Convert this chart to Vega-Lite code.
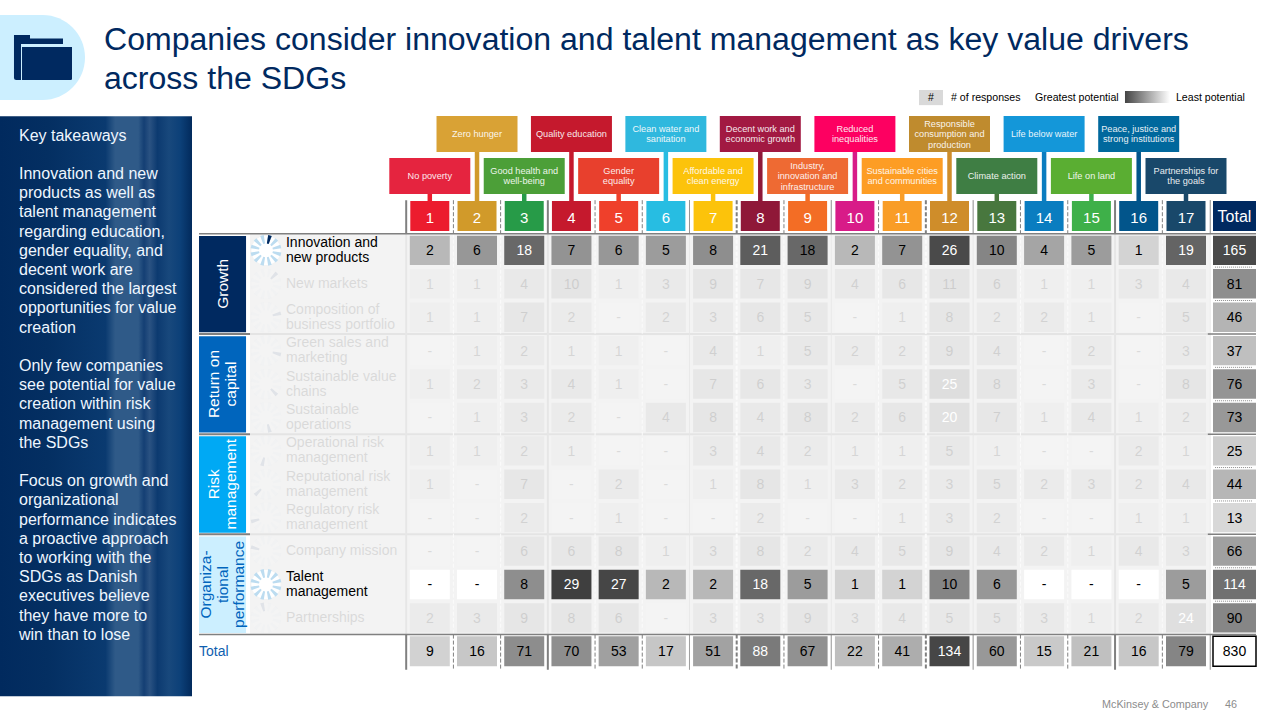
{"$schema":"https://vega.github.io/schema/vega-lite/v6.json","width":1280,"height":720,"padding":0,"autosize":{"type":"none"},"background":"white",
"config":{"view":{"stroke":null},"axis":{"disable":true},"legend":{"disable":true},"font":"Liberation Sans","text":{"font":"Liberation Sans"}},
"title":{"text":["Companies consider innovation and talent management as key value drivers","across the SDGs"],"anchor":"start","frame":"group","dx":104,"dy":96,"fontSize":32.05,"fontWeight":"normal","font":"Liberation Sans","color":"#002960","lineHeight":39,"offset":0},
"datasets":{
"cells":[
{"row":1,"col":1,"value":2},{"row":1,"col":2,"value":6},{"row":1,"col":3,"value":18},{"row":1,"col":4,"value":7},{"row":1,"col":5,"value":6},{"row":1,"col":6,"value":5},{"row":1,"col":7,"value":8},{"row":1,"col":8,"value":21},{"row":1,"col":9,"value":18},{"row":1,"col":10,"value":2},{"row":1,"col":11,"value":7},{"row":1,"col":12,"value":26},{"row":1,"col":13,"value":10},{"row":1,"col":14,"value":4},{"row":1,"col":15,"value":5},{"row":1,"col":16,"value":1},{"row":1,"col":17,"value":19},
{"row":2,"col":1,"value":1},{"row":2,"col":2,"value":1},{"row":2,"col":3,"value":4},{"row":2,"col":4,"value":10},{"row":2,"col":5,"value":1},{"row":2,"col":6,"value":3},{"row":2,"col":7,"value":9},{"row":2,"col":8,"value":7},{"row":2,"col":9,"value":9},{"row":2,"col":10,"value":4},{"row":2,"col":11,"value":6},{"row":2,"col":12,"value":11},{"row":2,"col":13,"value":6},{"row":2,"col":14,"value":1},{"row":2,"col":15,"value":1},{"row":2,"col":16,"value":3},{"row":2,"col":17,"value":4},
{"row":3,"col":1,"value":1},{"row":3,"col":2,"value":1},{"row":3,"col":3,"value":7},{"row":3,"col":4,"value":2},{"row":3,"col":5,"value":0},{"row":3,"col":6,"value":2},{"row":3,"col":7,"value":3},{"row":3,"col":8,"value":6},{"row":3,"col":9,"value":5},{"row":3,"col":10,"value":0},{"row":3,"col":11,"value":1},{"row":3,"col":12,"value":8},{"row":3,"col":13,"value":2},{"row":3,"col":14,"value":2},{"row":3,"col":15,"value":1},{"row":3,"col":16,"value":0},{"row":3,"col":17,"value":5},
{"row":4,"col":1,"value":0},{"row":4,"col":2,"value":1},{"row":4,"col":3,"value":2},{"row":4,"col":4,"value":1},{"row":4,"col":5,"value":1},{"row":4,"col":6,"value":0},{"row":4,"col":7,"value":4},{"row":4,"col":8,"value":1},{"row":4,"col":9,"value":5},{"row":4,"col":10,"value":2},{"row":4,"col":11,"value":2},{"row":4,"col":12,"value":9},{"row":4,"col":13,"value":4},{"row":4,"col":14,"value":0},{"row":4,"col":15,"value":2},{"row":4,"col":16,"value":0},{"row":4,"col":17,"value":3},
{"row":5,"col":1,"value":1},{"row":5,"col":2,"value":2},{"row":5,"col":3,"value":3},{"row":5,"col":4,"value":4},{"row":5,"col":5,"value":1},{"row":5,"col":6,"value":0},{"row":5,"col":7,"value":7},{"row":5,"col":8,"value":6},{"row":5,"col":9,"value":3},{"row":5,"col":10,"value":0},{"row":5,"col":11,"value":5},{"row":5,"col":12,"value":25},{"row":5,"col":13,"value":8},{"row":5,"col":14,"value":0},{"row":5,"col":15,"value":3},{"row":5,"col":16,"value":0},{"row":5,"col":17,"value":8},
{"row":6,"col":1,"value":0},{"row":6,"col":2,"value":1},{"row":6,"col":3,"value":3},{"row":6,"col":4,"value":2},{"row":6,"col":5,"value":0},{"row":6,"col":6,"value":4},{"row":6,"col":7,"value":8},{"row":6,"col":8,"value":4},{"row":6,"col":9,"value":8},{"row":6,"col":10,"value":2},{"row":6,"col":11,"value":6},{"row":6,"col":12,"value":20},{"row":6,"col":13,"value":7},{"row":6,"col":14,"value":1},{"row":6,"col":15,"value":4},{"row":6,"col":16,"value":1},{"row":6,"col":17,"value":2},
{"row":7,"col":1,"value":1},{"row":7,"col":2,"value":1},{"row":7,"col":3,"value":2},{"row":7,"col":4,"value":1},{"row":7,"col":5,"value":0},{"row":7,"col":6,"value":0},{"row":7,"col":7,"value":3},{"row":7,"col":8,"value":4},{"row":7,"col":9,"value":2},{"row":7,"col":10,"value":1},{"row":7,"col":11,"value":1},{"row":7,"col":12,"value":5},{"row":7,"col":13,"value":1},{"row":7,"col":14,"value":0},{"row":7,"col":15,"value":0},{"row":7,"col":16,"value":2},{"row":7,"col":17,"value":1},
{"row":8,"col":1,"value":1},{"row":8,"col":2,"value":0},{"row":8,"col":3,"value":7},{"row":8,"col":4,"value":0},{"row":8,"col":5,"value":2},{"row":8,"col":6,"value":0},{"row":8,"col":7,"value":1},{"row":8,"col":8,"value":8},{"row":8,"col":9,"value":1},{"row":8,"col":10,"value":3},{"row":8,"col":11,"value":2},{"row":8,"col":12,"value":3},{"row":8,"col":13,"value":5},{"row":8,"col":14,"value":2},{"row":8,"col":15,"value":3},{"row":8,"col":16,"value":2},{"row":8,"col":17,"value":4},
{"row":9,"col":1,"value":0},{"row":9,"col":2,"value":0},{"row":9,"col":3,"value":2},{"row":9,"col":4,"value":0},{"row":9,"col":5,"value":1},{"row":9,"col":6,"value":0},{"row":9,"col":7,"value":0},{"row":9,"col":8,"value":2},{"row":9,"col":9,"value":0},{"row":9,"col":10,"value":0},{"row":9,"col":11,"value":1},{"row":9,"col":12,"value":3},{"row":9,"col":13,"value":2},{"row":9,"col":14,"value":0},{"row":9,"col":15,"value":0},{"row":9,"col":16,"value":1},{"row":9,"col":17,"value":1},
{"row":10,"col":1,"value":0},{"row":10,"col":2,"value":0},{"row":10,"col":3,"value":6},{"row":10,"col":4,"value":6},{"row":10,"col":5,"value":8},{"row":10,"col":6,"value":1},{"row":10,"col":7,"value":3},{"row":10,"col":8,"value":8},{"row":10,"col":9,"value":2},{"row":10,"col":10,"value":4},{"row":10,"col":11,"value":5},{"row":10,"col":12,"value":9},{"row":10,"col":13,"value":4},{"row":10,"col":14,"value":2},{"row":10,"col":15,"value":1},{"row":10,"col":16,"value":4},{"row":10,"col":17,"value":3},
{"row":11,"col":1,"value":0},{"row":11,"col":2,"value":0},{"row":11,"col":3,"value":8},{"row":11,"col":4,"value":29},{"row":11,"col":5,"value":27},{"row":11,"col":6,"value":2},{"row":11,"col":7,"value":2},{"row":11,"col":8,"value":18},{"row":11,"col":9,"value":5},{"row":11,"col":10,"value":1},{"row":11,"col":11,"value":1},{"row":11,"col":12,"value":10},{"row":11,"col":13,"value":6},{"row":11,"col":14,"value":0},{"row":11,"col":15,"value":0},{"row":11,"col":16,"value":0},{"row":11,"col":17,"value":5},
{"row":12,"col":1,"value":2},{"row":12,"col":2,"value":3},{"row":12,"col":3,"value":9},{"row":12,"col":4,"value":8},{"row":12,"col":5,"value":6},{"row":12,"col":6,"value":0},{"row":12,"col":7,"value":3},{"row":12,"col":8,"value":3},{"row":12,"col":9,"value":9},{"row":12,"col":10,"value":3},{"row":12,"col":11,"value":4},{"row":12,"col":12,"value":5},{"row":12,"col":13,"value":5},{"row":12,"col":14,"value":3},{"row":12,"col":15,"value":1},{"row":12,"col":16,"value":2},{"row":12,"col":17,"value":24}],
"totals":[
{"row":13,"col":1,"value":9},{"row":13,"col":2,"value":16},{"row":13,"col":3,"value":71},{"row":13,"col":4,"value":70},{"row":13,"col":5,"value":53},{"row":13,"col":6,"value":17},{"row":13,"col":7,"value":51},{"row":13,"col":8,"value":88},{"row":13,"col":9,"value":67},{"row":13,"col":10,"value":22},{"row":13,"col":11,"value":41},{"row":13,"col":12,"value":134},{"row":13,"col":13,"value":60},{"row":13,"col":14,"value":15},{"row":13,"col":15,"value":21},{"row":13,"col":16,"value":16},{"row":13,"col":17,"value":79},
{"row":1,"col":18,"value":165},{"row":2,"col":18,"value":81},{"row":3,"col":18,"value":46},{"row":4,"col":18,"value":37},{"row":5,"col":18,"value":76},{"row":6,"col":18,"value":73},{"row":7,"col":18,"value":25},{"row":8,"col":18,"value":44},{"row":9,"col":18,"value":13},{"row":10,"col":18,"value":66},{"row":11,"col":18,"value":114},{"row":12,"col":18,"value":90}],
"metrics":[
{"row":1,"metric":"Innovation and\nnew products","dial":1},{"row":2,"metric":"New markets","dial":2},{"row":3,"metric":"Composition of\nbusiness portfolio","dial":3},{"row":4,"metric":"Green sales and\nmarketing","dial":4},{"row":5,"metric":"Sustainable value\nchains","dial":5},{"row":6,"metric":"Sustainable\noperations","dial":6},{"row":7,"metric":"Operational risk\nmanagement","dial":7},{"row":8,"metric":"Reputational risk\nmanagement","dial":8},{"row":9,"metric":"Regulatory risk\nmanagement","dial":9},{"row":10,"metric":"Company mission","dial":10},{"row":11,"metric":"Talent\nmanagement"},{"row":12,"metric":"Partnerships","dial":12}],
"groups":[
{"group":"Growth","label":"Growth","rowFirst":1,"rowLast":3,"rowMid":2},
{"group":"Return on capital","label":"Return on\ncapital","rowFirst":4,"rowLast":6,"rowMid":5},
{"group":"Risk management","label":"Risk\nmanagement","rowFirst":7,"rowLast":9,"rowMid":8},
{"group":"Organizational performance","label":"Organiza-\ntional\nperformance","rowFirst":10,"rowLast":12,"rowMid":11}],
"sdgs":[
{"col":1,"goal":"No poverty","label":"No poverty","tier":-1},
{"col":2,"goal":"Zero hunger","label":"Zero hunger","tier":-2},
{"col":3,"goal":"Good health and well-being","label":"Good health and\nwell-being","tier":-1},
{"col":4,"goal":"Quality education","label":"Quality education","tier":-2},
{"col":5,"goal":"Gender equality","label":"Gender\nequality","tier":-1},
{"col":6,"goal":"Clean water and sanitation","label":"Clean water and\nsanitation","tier":-2},
{"col":7,"goal":"Affordable and clean energy","label":"Affordable and\nclean energy","tier":-1},
{"col":8,"goal":"Decent work and economic growth","label":"Decent work and\neconomic growth","tier":-2},
{"col":9,"goal":"Industry, innovation and infrastructure","label":"Industry,\ninnovation and\ninfrastructure","tier":-1},
{"col":10,"goal":"Reduced inequalities","label":"Reduced\ninequalities","tier":-2},
{"col":11,"goal":"Sustainable cities and communities","label":"Sustainable cities\nand communities","tier":-1},
{"col":12,"goal":"Responsible consumption and production","label":"Responsible\nconsumption and\nproduction","tier":-2},
{"col":13,"goal":"Climate action","label":"Climate action","tier":-1},
{"col":14,"goal":"Life below water","label":"Life below water","tier":-2},
{"col":15,"goal":"Life on land","label":"Life on land","tier":-1},
{"col":16,"goal":"Peace, justice and strong institutions","label":"Peace, justice and\nstrong institutions","tier":-2},
{"col":17,"goal":"Partnerships for the goals","label":"Partnerships for\nthe goals","tier":-1}],
"vlines":[
{"col":0.5,"line":"solid","weight":"thick"},{"col":1.5,"line":"dash","weight":"thin"},{"col":2.5,"line":"dash","weight":"thin"},{"col":3.5,"line":"solid","weight":"thick"},{"col":4.5,"line":"dash","weight":"thin"},{"col":5.5,"line":"dash","weight":"thin"},{"col":6.5,"line":"solid","weight":"thin"},{"col":7.5,"line":"dash","weight":"thick"},{"col":8.5,"line":"dash","weight":"thin"},{"col":9.5,"line":"solid","weight":"thin"},{"col":10.5,"line":"dash","weight":"thin"},{"col":11.5,"line":"dash","weight":"thick"},{"col":12.5,"line":"solid","weight":"thin"},{"col":13.5,"line":"dash","weight":"thin"},{"col":14.5,"line":"dash","weight":"thin"},{"col":15.5,"line":"solid","weight":"thick"},{"col":16.5,"line":"dash","weight":"thin"},{"col":17.5,"line":"solid","weight":"thin"}],
"hlines":[
{"row":0.5,"kind":"frame"},{"row":12.5,"kind":"frame"},{"row":3.5,"kind":"group"},{"row":6.5,"kind":"group"},{"row":9.5,"kind":"group"},
{"row":1.5,"kind":"dot"},{"row":2.5,"kind":"dot"},{"row":4.5,"kind":"dot"},{"row":5.5,"kind":"dot"},{"row":7.5,"kind":"dot"},{"row":8.5,"kind":"dot"},{"row":10.5,"kind":"dot"},{"row":11.5,"kind":"dot"}],
"takeaways":[
{"line":1,"text":"Key takeaways"},{"line":3,"text":"Innovation and new"},{"line":4,"text":"products as well as"},{"line":5,"text":"talent management"},{"line":6,"text":"regarding education,"},{"line":7,"text":"gender equality, and"},{"line":8,"text":"decent work are"},{"line":9,"text":"considered the largest"},{"line":10,"text":"opportunities for value"},{"line":11,"text":"creation"},
{"line":13,"text":"Only few companies"},{"line":14,"text":"see potential for value"},{"line":15,"text":"creation within risk"},{"line":16,"text":"management using"},{"line":17,"text":"the SDGs"},
{"line":19,"text":"Focus on growth and"},{"line":20,"text":"organizational"},{"line":21,"text":"performance indicates"},{"line":22,"text":"a proactive approach"},{"line":23,"text":"to working with the"},{"line":24,"text":"SDGs as Danish"},{"line":25,"text":"executives believe"},{"line":26,"text":"they have more to"},{"line":27,"text":"win than to lose"}],
"one":[{"item":"single"}]
},
"resolve":{"scale":{"x":"independent","y":"independent"}},
"layer":[
{"data":{"name":"one"},
 "encoding":{"x":{"datum":0.5,"type":"quantitative","scale":{"domain":[0,1],"range":[0,85],"zero":false,"nice":false}},"y":{"datum":0.5,"type":"quantitative","scale":{"domain":[0,1],"range":[15,100],"zero":false,"nice":false}}},
 "layer":[
 {"mark":{"type":"point","filled":true,"opacity":1,"size":7225,"color":"#ccefff","strokeWidth":0,"shape":"M-1,-1H0A1,1,0,0,1,0,1H-1Z"}},
 {"mark":{"type":"point","filled":true,"opacity":1,"size":7225,"color":"#002960","strokeWidth":0,"shape":"M-0.671,-0.529H-0.294V-0.447H0.482V-0.318H-0.506V0.529H-0.62Q-0.671,0.529,-0.671,0.48ZM-0.482,-0.247H0.694V0.5Q0.694,0.529,0.665,0.529H-0.482Z"}}
 ]},
{"encoding":{"x":{"type":"quantitative","scale":{"domain":[0,1],"range":[0,192],"zero":false,"nice":false}},"y":{"type":"quantitative","scale":{"domain":[1,27],"range":[135.5,634.8],"zero":false,"nice":false}}},
 "layer":[
 {"data":{"name":"one"},"mark":{"type":"rect","fill":{"gradient":"linear","x1":0,"x2":1,"y1":0,"y2":0,"stops":[{"offset":0,"color":"#012a5e"},{"offset":0.25,"color":"#042f62"},{"offset":0.55,"color":"#0a3a70"},{"offset":0.6,"color":"#2f5a88"},{"offset":0.72,"color":"#2f5a88"},{"offset":0.75,"color":"#143f74"},{"offset":0.78,"color":"#2a5282"},{"offset":0.82,"color":"#0c3a70"},{"offset":0.88,"color":"#18487c"},{"offset":0.94,"color":"#0c4078"},{"offset":1,"color":"#022a5c"}]}},
  "encoding":{"x":{"datum":0},"x2":{"datum":1},"y":{"datum":0},"y2":{"datum":30.2}}},
 {"data":{"name":"takeaways"},"mark":{"type":"text","align":"left","baseline":"middle","fontSize":16,"color":"#eef6ff"},"encoding":{"x":{"datum":0.099},"y":{"field":"line"},"text":{"field":"text"}}}
 ]},
{"encoding":{"x":{"type":"quantitative","scale":{"domain":[1,8,17,18],"range":[429.8,760.3,1186,1234.5],"zero":false,"nice":false}},"y":{"type":"quantitative","scale":{"domain":[-3,-2,-1,0,13],"range":[97,134,176,217,651.3],"zero":false,"nice":false}}},
 "resolve":{"scale":{"color":"independent"}},
 "layer":[
 {"data":{"name":"one"},"mark":{"type":"rect","color":"#f3f3f3"},"encoding":{"x":{"datum":-2.808},"x2":{"datum":17.5},"y":{"datum":0.5},"y2":{"datum":12.5}}},
 {"data":{"name":"hlines"},"transform":[{"filter":"datum.kind==='group'"}],"mark":{"type":"rule","color":"#e4e4e4","strokeWidth":2},"encoding":{"x":{"datum":-2.808},"x2":{"datum":17.5},"y":{"field":"row"}}},
 {"data":{"name":"vlines"},"mark":{"type":"rule"},"encoding":{"x":{"field":"col"},"y":{"datum":0.5},"y2":{"datum":12.5},"color":{"field":"line","type":"nominal","scale":{"domain":["solid","dash"],"range":["#e6e6e6","#fbfbfb"]}},"strokeDash":{"field":"line","type":"nominal","scale":{"domain":["solid","dash"],"range":[[1,0],[4,2]]}},"strokeWidth":{"field":"weight","type":"ordinal","scale":{"domain":["thick","thin"],"range":[2,1]}}}},
 {"data":{"name":"vlines"},"mark":{"type":"rule","color":"#808080"},"encoding":{"x":{"field":"col"},"y":{"datum":-0.41},"y2":{"datum":0.5},"strokeDash":{"field":"line","type":"nominal","scale":{"domain":["solid","dash"],"range":[[1,0],[4,2]]}},"strokeWidth":{"field":"weight","type":"ordinal","scale":{"domain":["thick","thin"],"range":[2,1]}}}},
 {"data":{"name":"vlines"},"mark":{"type":"rule","color":"#808080"},"encoding":{"x":{"field":"col"},"y":{"datum":12.5},"y2":{"datum":13.55},"strokeDash":{"field":"line","type":"nominal","scale":{"domain":["solid","dash"],"range":[[1,0],[4,2]]}},"strokeWidth":{"field":"weight","type":"ordinal","scale":{"domain":["thick","thin"],"range":[2,1]}}}},
 {"data":{"name":"hlines"},"transform":[{"filter":"datum.kind==='frame'"}],"mark":{"type":"rule","color":"#808080","strokeWidth":1.5},"encoding":{"x":{"datum":-3.888},"x2":{"datum":18.443},"y":{"field":"row"}}},
 {"data":{"name":"hlines"},"transform":[{"filter":"datum.kind==='group'"}],"mark":{"type":"rule","color":"#808080","strokeWidth":2},"encoding":{"x":{"datum":-3.888},"x2":{"datum":-2.808},"y":{"field":"row"}}},
 {"data":{"name":"hlines"},"transform":[{"filter":"datum.kind==='group'"}],"mark":{"type":"rule","color":"#808080","strokeWidth":1.5},"encoding":{"x":{"datum":17.45},"x2":{"datum":18.443},"y":{"field":"row"}}},
 {"data":{"name":"hlines"},"transform":[{"filter":"datum.kind==='dot'"}],"mark":{"type":"rule","color":"#8a8a8a","strokeWidth":1,"strokeDash":[1,1]},"encoding":{"x":{"datum":17.6},"x2":{"datum":18.36},"y":{"field":"row"}}},
 {"data":{"name":"groups"},"mark":{"type":"rect","yOffset":-14.5,"y2Offset":15},"encoding":{"x":{"datum":-3.888},"x2":{"datum":-2.892},"y":{"field":"rowFirst"},"y2":{"field":"rowLast"},"color":{"field":"group","type":"nominal","scale":{"domain":["Growth","Return on capital","Risk management","Organizational performance"],"range":["#002960","#0065bd","#00a9f4","#ccefff"]}}}},
 {"data":{"name":"groups"},"mark":{"type":"text","angle":270,"align":"center","baseline":"middle","fontSize":15.5,"lineHeight":16.5,"lineBreak":"\n","dy":{"expr":"-(length(split(datum.label,'\\n'))-1)*8.25"}},"encoding":{"x":{"datum":-3.39},"y":{"field":"rowMid"},"text":{"field":"label"},"color":{"field":"group","type":"nominal","scale":{"domain":["Growth","Return on capital","Risk management","Organizational performance"],"range":["#ffffff","#ffffff","#ffffff","#0065bd"]}}}},
 {"data":{"name":"metrics"},"mark":{"type":"point","filled":true,"color":"#ffffff","shape":"circle","size":850,"strokeWidth":0},"encoding":{"x":{"datum":-2.47},"y":{"field":"row"},"opacity":{"condition":{"test":"datum.row===1||datum.row===11","value":1},"value":0.12}}},
 {"data":{"name":"metrics"},"mark":{"type":"point","filled":true,"color":"#bcdcf0","size":950,"strokeWidth":0,"angle":15,"shape":"M0.06,-0.45L0.12,-1L-0.12,-1L-0.06,-0.45ZM0.277,-0.36L0.604,-0.806L0.396,-0.926L0.173,-0.42ZM0.42,-0.173L0.926,-0.396L0.806,-0.604L0.36,-0.277ZM0.45,0.06L1,0.12L1,-0.12L0.45,-0.06ZM0.42,0.173L0.926,0.396L0.806,0.604L0.36,0.277ZM0.277,0.36L0.604,0.806L0.396,0.926L0.173,0.42ZM0.06,0.45L0.12,1L-0.12,1L-0.06,0.45ZM-0.277,0.36L-0.604,0.806L-0.396,0.926L-0.173,0.42ZM-0.42,0.173L-0.926,0.396L-0.806,0.604L-0.36,0.277ZM-0.45,0.06L-1,0.12L-1,-0.12L-0.45,-0.06ZM-0.42,-0.173L-0.926,-0.396L-0.806,-0.604L-0.36,-0.277ZM-0.277,-0.36L-0.604,-0.806L-0.396,-0.926L-0.173,-0.42Z"},"encoding":{"x":{"datum":-2.47},"y":{"field":"row"},"opacity":{"condition":{"test":"datum.row===1||datum.row===11","value":1},"value":0.05}}},
 {"data":{"name":"metrics"},"transform":[{"filter":"isValid(datum.dial)"}],"mark":{"type":"point","filled":true,"color":"#002960","size":950,"strokeWidth":0,"shape":"M0.06,-0.45L0.12,-1L-0.12,-1L-0.06,-0.45Z"},"encoding":{"x":{"datum":-2.47},"y":{"field":"row"},"angle":{"field":"dial","type":"quantitative","scale":{"domain":[1,13],"range":[15,375],"zero":false,"nice":false}},"opacity":{"condition":{"test":"datum.row===1||datum.row===11","value":1},"value":0.07}}},
 {"data":{"name":"metrics"},"mark":{"type":"text","align":"left","baseline":"middle","fontSize":14,"lineHeight":15,"lineBreak":"\n","color":"#000000","dy":{"expr":"-(length(split(datum.metric,'\\n'))-1)*7.5"}},"encoding":{"x":{"datum":-2.046},"y":{"field":"row"},"text":{"field":"metric"},"opacity":{"condition":{"test":"datum.row===1||datum.row===11","value":1},"value":0.1}}},
 {"data":{"name":"cells"},"mark":{"type":"rect","xOffset":-20,"x2Offset":20,"yOffset":-14.7,"y2Offset":14.7},"encoding":{"x":{"field":"col"},"y":{"field":"row"},"x2":{"field":"col"},"y2":{"field":"row"},"color":{"field":"value","type":"quantitative","scale":{"domain":[0,1,2,5,10,18,29],"range":["#ffffff","#d3d3d3","#b8b8b8","#9c9c9c","#858585","#686868","#3f3f3f"],"interpolate":"rgb"}},"opacity":{"condition":{"test":"datum.row===1||datum.row===11","value":1},"value":0.12}}},
 {"data":{"name":"cells"},"mark":{"type":"text","align":"center","baseline":"middle","fontSize":14,"dy":1},"encoding":{"x":{"field":"col"},"y":{"field":"row"},"text":{"condition":{"test":"datum.value===0","value":"-"},"field":"value","type":"quantitative"},"color":{"condition":{"test":"datum.value>=18 && !(datum.row===1 && datum.col===9)","value":"#ffffff"},"value":"#000000"},"opacity":{"condition":{"test":"datum.row===1||datum.row===11||datum.value>=20","value":1},"value":0.1}}},
 {"data":{"name":"totals"},"transform":[{"filter":"datum.row===13"}],"mark":{"type":"rect","xOffset":-20,"x2Offset":20,"yOffset":-15,"y2Offset":15},"encoding":{"x":{"field":"col"},"y":{"field":"row"},"x2":{"field":"col"},"y2":{"field":"row"},"color":{"field":"value","type":"quantitative","scale":{"domain":[9,22,41,60,79,88,134],"range":["#d2d2d2","#bebebe","#adadad","#989898","#858585","#7a7a7a","#464646"],"interpolate":"rgb"}}}},
 {"data":{"name":"totals"},"transform":[{"filter":"datum.col===18"}],"mark":{"type":"rect","xOffset":-21.5,"x2Offset":21.5,"yOffset":-14.7,"y2Offset":14.7},"encoding":{"x":{"field":"col"},"y":{"field":"row"},"x2":{"field":"col"},"y2":{"field":"row"},"color":{"field":"value","type":"quantitative","scale":{"domain":[13,25,46,66,81,114,165],"range":["#d8d8d8","#cdcdcd","#b4b4b4","#a0a0a0","#8e8e8e","#707070","#4a4a4a"],"interpolate":"rgb"}}}},
 {"data":{"name":"totals"},"mark":{"type":"text","align":"center","baseline":"middle","fontSize":14,"dy":1},"encoding":{"x":{"field":"col"},"y":{"field":"row"},"text":{"field":"value","type":"quantitative"},"color":{"condition":{"test":"datum.value>=114 || datum.value===88","value":"#ffffff"},"value":"#000000"}}},
 {"data":{"name":"one"},"mark":{"type":"rect","fill":"#ffffff","stroke":"#000000","strokeWidth":1.5,"xOffset":-21.5,"x2Offset":21.5,"yOffset":-15,"y2Offset":15},"encoding":{"x":{"datum":18},"x2":{"datum":18},"y":{"datum":13},"y2":{"datum":13}}},
 {"data":{"name":"one"},"mark":{"type":"text","text":"830","align":"center","baseline":"middle","fontSize":14,"dy":1,"color":"#000000"},"encoding":{"x":{"datum":18},"y":{"datum":13}}},
 {"data":{"name":"sdgs"},"mark":{"type":"rule","strokeWidth":4.5},"encoding":{"x":{"field":"col"},"y":{"field":"tier"},"y2":{"datum":0},"color":{"field":"goal","type":"nominal","sort":null,"scale":{"domain":["No poverty","Zero hunger","Good health and well-being","Quality education","Gender equality","Clean water and sanitation","Affordable and clean energy","Decent work and economic growth","Industry, innovation and infrastructure","Reduced inequalities","Sustainable cities and communities","Responsible consumption and production","Climate action","Life below water","Life on land","Peace, justice and strong institutions","Partnerships for the goals"],"range":["#ec1c2e","#d19a2a","#279b48","#c5192d","#ef402b","#27bde2","#fcc30b","#8f1838","#f36d25","#d81b88","#f99d26","#cf8d2a","#48773e","#0a7dc0","#3eb049","#02558b","#19486a"]}}}},
 {"data":{"name":"sdgs"},"mark":{"type":"rect","xOffset":-40.5,"x2Offset":40.5,"yOffset":-18,"y2Offset":18},"encoding":{"x":{"field":"col"},"x2":{"field":"col"},"y":{"field":"tier"},"y2":{"field":"tier"},"color":{"field":"goal","type":"nominal","scale":{"domain":["No poverty","Zero hunger","Good health and well-being","Quality education","Gender equality","Clean water and sanitation","Affordable and clean energy","Decent work and economic growth","Industry, innovation and infrastructure","Reduced inequalities","Sustainable cities and communities","Responsible consumption and production","Climate action","Life below water","Life on land","Peace, justice and strong institutions","Partnerships for the goals"],"range":["#e5243f","#d9a235","#4c9f38","#c5192d","#e8402d","#2fb8de","#fcc30b","#a21942","#ee6a33","#fd0061","#fd9d24","#bf8b2e","#3f7e44","#1497d9","#5aae32","#00689d","#19486a"]}}}},
 {"data":{"name":"sdgs"},"mark":{"type":"text","align":"center","baseline":"middle","fontSize":9.2,"lineHeight":10.5,"lineBreak":"\n","color":"#ffffff","opacity":0.9,"dy":{"expr":"-(length(split(datum.label,'\\n'))-1)*5.25"}},"encoding":{"x":{"field":"col"},"y":{"field":"tier"},"text":{"field":"label"}}},
 {"data":{"name":"sdgs"},"mark":{"type":"rect","xOffset":-19.5,"x2Offset":19.5,"yOffset":-16,"y2Offset":14},"encoding":{"x":{"field":"col"},"x2":{"field":"col"},"y":{"datum":0},"y2":{"datum":0},"color":{"field":"goal","type":"nominal","scale":{"domain":["No poverty","Zero hunger","Good health and well-being","Quality education","Gender equality","Clean water and sanitation","Affordable and clean energy","Decent work and economic growth","Industry, innovation and infrastructure","Reduced inequalities","Sustainable cities and communities","Responsible consumption and production","Climate action","Life below water","Life on land","Peace, justice and strong institutions","Partnerships for the goals"],"range":["#ec1c2e","#d19a2a","#279b48","#c5192d","#ef402b","#27bde2","#fcc30b","#8f1838","#f36d25","#d81b88","#f99d26","#cf8d2a","#48773e","#0a7dc0","#3eb049","#02558b","#19486a"]}}}},
 {"data":{"name":"sdgs"},"mark":{"type":"text","align":"center","baseline":"middle","fontSize":15,"dy":1,"color":"#ffffff"},"encoding":{"x":{"field":"col"},"y":{"datum":0},"text":{"field":"col","type":"quantitative"}}},
 {"data":{"name":"one"},"mark":{"type":"rect","color":"#002960","xOffset":-21.5,"x2Offset":21.5,"yOffset":-16,"y2Offset":14},"encoding":{"x":{"datum":18},"x2":{"datum":18},"y":{"datum":0},"y2":{"datum":0}}},
 {"data":{"name":"one"},"mark":{"type":"text","text":"Total","align":"center","baseline":"middle","fontSize":16,"color":"#ffffff"},"encoding":{"x":{"datum":18},"y":{"datum":0}}},
 {"data":{"name":"one"},"mark":{"type":"text","text":"Total","align":"left","baseline":"middle","fontSize":14,"dy":1,"color":"#0f5fb0"},"encoding":{"x":{"datum":-3.888},"y":{"datum":13}}},
 {"data":{"name":"one"},"mark":{"type":"rect","color":"#d9d9d9"},"encoding":{"x":{"datum":11.355},"x2":{"datum":11.862},"y":{"datum":-3.19},"y2":{"datum":-2.78}}},
 {"data":{"name":"one"},"mark":{"type":"text","text":"#","align":"center","baseline":"middle","fontSize":10.5,"dy":1,"color":"#000000"},"encoding":{"x":{"datum":11.608},"y":{"datum":-3}}},
 {"data":{"name":"one"},"mark":{"type":"text","text":"# of responses","align":"left","baseline":"middle","fontSize":10.6,"dy":1,"color":"#000000"},"encoding":{"x":{"datum":12.032},"y":{"datum":-3}}},
 {"data":{"name":"one"},"mark":{"type":"text","text":"Greatest potential","align":"left","baseline":"middle","fontSize":10.6,"dy":1,"color":"#000000"},"encoding":{"x":{"datum":13.808},"y":{"datum":-3}}},
 {"data":{"name":"one"},"mark":{"type":"rect","fill":{"gradient":"linear","x1":0,"x2":1,"y1":0,"y2":0,"stops":[{"offset":0,"color":"#444444"},{"offset":1,"color":"#ffffff"}]}},"encoding":{"x":{"datum":15.71},"x2":{"datum":16.661},"y":{"datum":-3.16},"y2":{"datum":-2.84}}},
 {"data":{"name":"one"},"mark":{"type":"text","text":"Least potential","align":"left","baseline":"middle","fontSize":10.6,"dy":1,"color":"#000000"},"encoding":{"x":{"datum":16.788},"y":{"datum":-3}}},
 {"data":{"name":"one"},"mark":{"type":"text","text":"McKinsey & Company","align":"left","baseline":"middle","fontSize":10.8,"dy":1,"color":"#8c8c8c"},"encoding":{"x":{"datum":15.224},"y":{"datum":14.58}}},
 {"data":{"name":"one"},"mark":{"type":"text","text":"46","align":"left","baseline":"middle","fontSize":10.8,"dy":1,"color":"#8c8c8c"},"encoding":{"x":{"datum":17.804},"y":{"datum":14.58}}}
 ]}
]}
